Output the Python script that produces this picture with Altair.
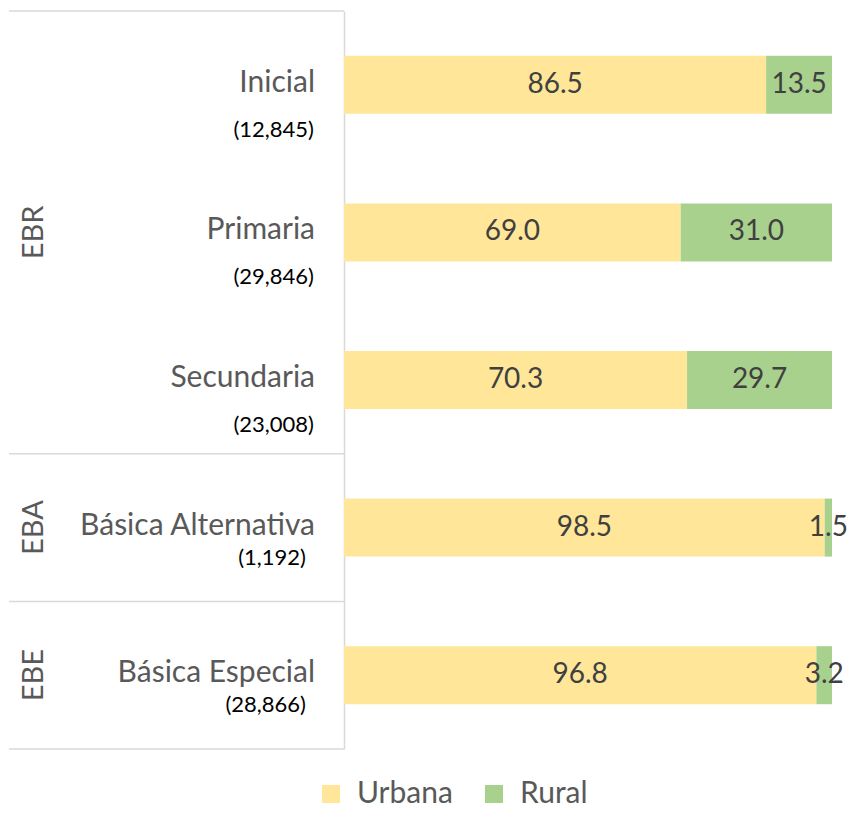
import altair as alt
import pandas as pd

categories = ["Inicial", "Primaria", "Secundaria", "Básica Alternativa", "Básica Especial"]
counts = ["(12,845)", "(29,846)", "(23,008)", "(1,192)", "(28,866)"]
levels = ["EBR", "EBR", "EBR", "EBA", "EBE"]
urbana = [86.5, 69.0, 70.3, 98.5, 96.8]
rural = [13.5, 31.0, 29.7, 1.5, 3.2]
series = ["Urbana", "Rural"]
colors = ["#FFE699", "#A9D18E"]

group_names = ["EBR", "EBA", "EBE"]
group_center = ["Primaria", "Básica Alternativa", "Básica Especial"]
divider_top = ["Inicial", "Básica Alternativa", "Básica Especial"]
divider_bottom = ["Básica Especial"]

rows = []
for c, lv, u, r in zip(categories, levels, urbana, rural):
    rows.append({"cat": c, "level": lv, "serie": "Urbana", "value": u, "start": 0, "end": u, "mid": u / 2})
    rows.append({"cat": c, "level": lv, "serie": "Rural", "value": r, "start": u, "end": u + r, "mid": u + r / 2})
df = pd.DataFrame(rows)

lab = pd.DataFrame({"cat": categories, "count": counts, "level": levels})
grp = pd.DataFrame({"g": group_names, "cat": group_center})
top = pd.DataFrame({"cat": divider_top})
bot = pd.DataFrame({"cat": divider_bottom})

FONT = "Lato"
W, H = 488, 738

yscale = alt.Scale(domain=categories, paddingInner=0, paddingOuter=0)
yenc = alt.Y("cat:N", scale=yscale, sort=categories,
             axis=alt.Axis(title=None, labels=False, ticks=False, domain=True,
                           domainColor="#D9D9D9", domainWidth=1.5, grid=False))
xscale = alt.Scale(domain=[0, 100], nice=False, zero=True)

bars = alt.Chart(df).mark_bar(height=58).encode(
    x=alt.X("start:Q", scale=xscale, axis=None),
    x2="end:Q",
    y=yenc,
    color=alt.Color("serie:N", scale=alt.Scale(domain=series, range=colors),
                    sort=series,
                    legend=alt.Legend(title=None, orient="none", direction="horizontal",
                                      legendX=-28, legendY=768,
                                      symbolType="square", symbolSize=324,
                                      symbolStrokeWidth=0, symbolOpacity=1,
                                      labelFont=FONT, labelFontSize=30,
                                      labelColor="#595959", columnPadding=26,
                                      labelOffset=11)),
)

vals = alt.Chart(df).mark_text(font=FONT, fontSize=28, color="#404040", baseline="middle").encode(
    x=alt.X("mid:Q", scale=xscale),
    y=alt.Y("cat:N", scale=yscale, sort=categories),
    text=alt.Text("value:Q", format=".1f"),
)

catlab = alt.Chart(lab).mark_text(font=FONT, fontSize=30, color="#595959", align="right",
                                  baseline="middle", dy=-2).encode(
    x=alt.value(-29),
    y=alt.Y("cat:N", scale=yscale, sort=categories),
    text="cat:N",
)

cnt_ebr = alt.Chart(lab).transform_filter(alt.datum.level == "EBR").mark_text(
    font=FONT, fontSize=22, color="#000000", align="right", baseline="middle", dy=45).encode(
    x=alt.value(-30),
    y=alt.Y("cat:N", scale=yscale, sort=categories),
    text="count:N",
)
cnt_other = alt.Chart(lab).transform_filter(alt.datum.level != "EBR").mark_text(
    font=FONT, fontSize=22, color="#000000", align="right", baseline="middle", dy=30).encode(
    x=alt.value(-38),
    y=alt.Y("cat:N", scale=yscale, sort=categories),
    text="count:N",
)

grplab = alt.Chart(grp).mark_text(font=FONT, fontSize=29, color="#595959", angle=270,
                                  align="center", baseline="middle").encode(
    x=alt.value(-310),
    y=alt.Y("cat:N", scale=yscale, sort=categories),
    text="g:N",
)

rule_top = alt.Chart(top).mark_rule(color="#D9D9D9", strokeWidth=1.5).encode(
    x=alt.value(-335), x2=alt.value(0),
    y=alt.Y("cat:N", scale=yscale, sort=categories, bandPosition=0),
)
rule_bot = alt.Chart(bot).mark_rule(color="#D9D9D9", strokeWidth=1.5).encode(
    x=alt.value(-335), x2=alt.value(0),
    y=alt.Y("cat:N", scale=yscale, sort=categories, bandPosition=1),
)

chart = alt.layer(rule_top, rule_bot, bars, vals, catlab, cnt_ebr, cnt_other, grplab).properties(
    width=W, height=H, background="white",
    padding={"left": 0, "top": 2, "right": 0, "bottom": 0},
).configure_view(strokeWidth=0, stroke="transparent")

chart.save("out.html", embed_options={"renderer": "svg", "actions": False})
